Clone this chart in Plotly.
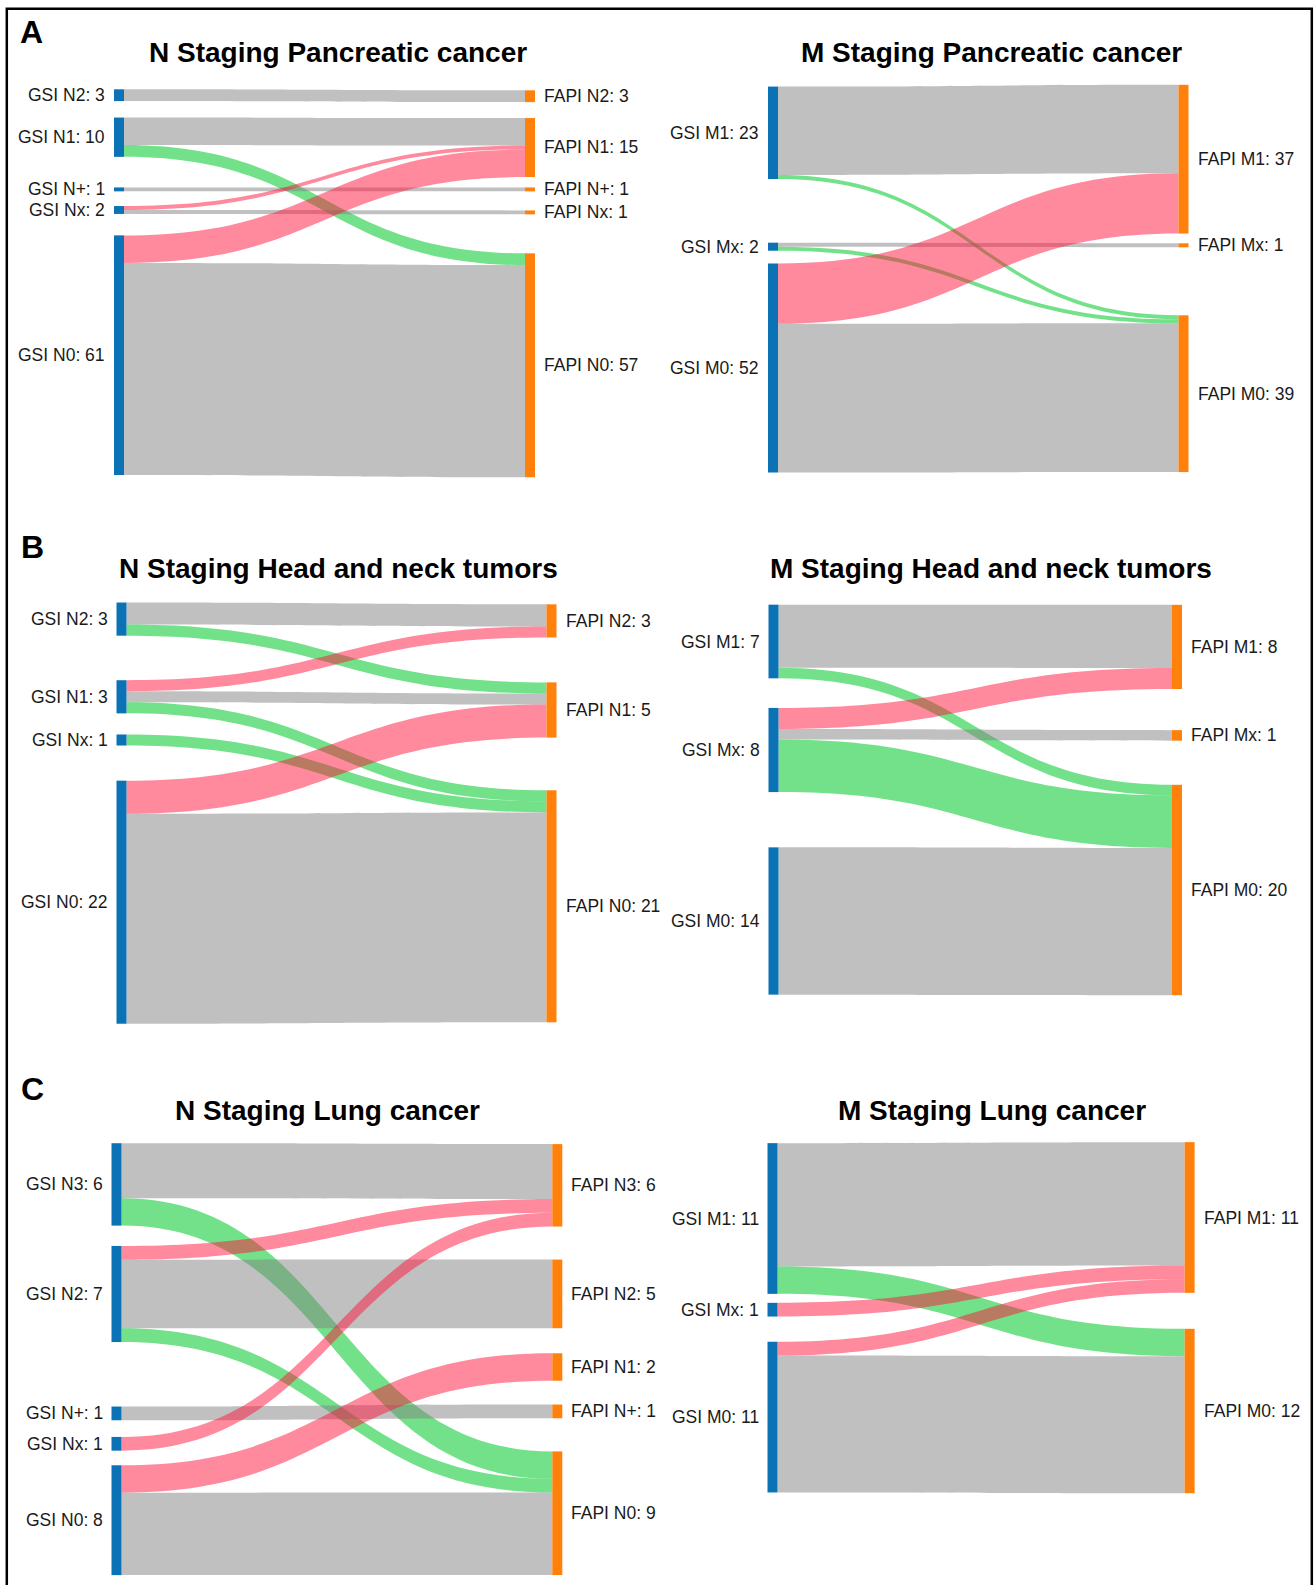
import plotly.graph_objects as go

# ---------------------------------------------------------------- data
# Panel A - Pancreatic cancer, N staging (GSI -> FAPI)
A_N_gsi = ["N2", "N1", "N+", "Nx", "N0"]
A_N_fapi = ["N2", "N1", "N+", "Nx", "N0"]
A_N_src = ["N2", "N1", "N1", "N+", "Nx", "Nx", "N0", "N0"]
A_N_tgt = ["N2", "N1", "N0", "N+", "N1", "Nx", "N1", "N0"]
A_N_val = [3, 7, 3, 1, 1, 1, 7, 54]

# Panel A - Pancreatic cancer, M staging
A_M_gsi = ["M1", "Mx", "M0"]
A_M_fapi = ["M1", "Mx", "M0"]
A_M_src = ["M1", "M1", "Mx", "Mx", "M0", "M0"]
A_M_tgt = ["M1", "M0", "Mx", "M0", "M1", "M0"]
A_M_val = [22, 1, 1, 1, 15, 37]

# Panel B - Head and neck tumors, N staging
B_N_gsi = ["N2", "N1", "Nx", "N0"]
B_N_fapi = ["N2", "N1", "N0"]
B_N_src = ["N2", "N2", "N1", "N1", "N1", "Nx", "N0", "N0"]
B_N_tgt = ["N2", "N1", "N2", "N1", "N0", "N0", "N1", "N0"]
B_N_val = [2, 1, 1, 1, 1, 1, 3, 19]

# Panel B - Head and neck tumors, M staging
B_M_gsi = ["M1", "Mx", "M0"]
B_M_fapi = ["M1", "Mx", "M0"]
B_M_src = ["M1", "M1", "Mx", "Mx", "Mx", "M0"]
B_M_tgt = ["M1", "M0", "M1", "Mx", "M0", "M0"]
B_M_val = [6, 1, 2, 1, 5, 14]

# Panel C - Lung cancer, N staging
C_N_gsi = ["N3", "N2", "N+", "Nx", "N0"]
C_N_fapi = ["N3", "N2", "N1", "N+", "N0"]
C_N_src = ["N3", "N3", "N2", "N2", "N2", "N+", "Nx", "N0", "N0"]
C_N_tgt = ["N3", "N0", "N3", "N2", "N0", "N+", "N3", "N1", "N0"]
C_N_val = [4, 2, 1, 5, 1, 1, 1, 2, 6]

# Panel C - Lung cancer, M staging
C_M_gsi = ["M1", "Mx", "M0"]
C_M_fapi = ["M1", "M0"]
C_M_src = ["M1", "M1", "Mx", "M0", "M0"]
C_M_tgt = ["M1", "M0", "M1", "M1", "M0"]
C_M_val = [9, 2, 1, 1, 10]

PANEL_LETTERS = ["A", "B", "C"]

# ---------------------------------------------------------------- style / geometry
W, H = 1316, 1585
FONT = "Liberation Sans, Arial, sans-serif"
BLUE = "#0b72b5"
ORANGE = "#ff800b"
GRAY = "rgba(130,130,130,0.5)"
RED = "rgba(255,20,60,0.5)"
GREEN = "rgba(0,200,40,0.55)"
NODE_T = 10          # node thickness (px)
LABEL_GAP = 8        # gap between node and its label (px)
LABEL_SIZE = 17.5
TITLE_SIZE = 28
RANK = {"0": 0, "x": 0.5, "+": 1, "1": 1, "2": 2, "3": 3}

# geometry in pixels: sankey extent, node padding, node centres, title position
panels = [
    dict(title="N Staging Pancreatic cancer", gsi=A_N_gsi, fapi=A_N_fapi,
         src=A_N_src, tgt=A_N_tgt, val=A_N_val,
         xr=(114, 535), yr=(89, 477.5), pad=21.5,
         gsi_c=[95.2, 137.2, 189.4, 210.0, 355.2],
         fapi_c=[96.2, 147.5, 189.4, 212.4, 365.3],
         title_xy=(338, 52.6)),
    dict(title="M Staging Pancreatic cancer", gsi=A_M_gsi, fapi=A_M_fapi,
         src=A_M_src, tgt=A_M_tgt, val=A_M_val,
         xr=(768, 1188.5), yr=(85, 473), pad=39.25,
         gsi_c=[132.8, 246.7, 368.0],
         fapi_c=[159.2, 245.3, 393.7],
         title_xy=(991.6, 52.6)),
    dict(title="N Staging Head and neck tumors", gsi=B_N_gsi, fapi=B_N_fapi,
         src=B_N_src, tgt=B_N_tgt, val=B_N_val,
         xr=(116.5, 556.5), yr=(602.6, 1024.4), pad=33.8,
         gsi_c=[619.1, 696.8, 740.0, 902.2],
         fapi_c=[620.9, 710.0, 906.3],
         title_xy=(338.6, 568.5)),
    dict(title="M Staging Head and neck tumors", gsi=B_M_gsi, fapi=B_M_fapi,
         src=B_M_src, tgt=B_M_tgt, val=B_M_val,
         xr=(768.5, 1182), yr=(604.7, 995.2), pad=42.7,
         gsi_c=[641.5, 750.0, 921.0],
         fapi_c=[646.9, 735.4, 890.0],
         title_xy=(991, 568)),
    dict(title="N Staging Lung cancer", gsi=C_N_gsi, fapi=C_N_fapi,
         src=C_N_src, tgt=C_N_tgt, val=C_N_val,
         xr=(111.5, 562.3), yr=(1143.3, 1575.1), pad=29,
         gsi_c=[1184.4, 1294.0, 1413.4, 1443.8, 1520.2],
         fapi_c=[1185.3, 1293.9, 1367.0, 1411.4, 1513.2],
         title_xy=(327.5, 1110)),
    dict(title="M Staging Lung cancer", gsi=C_M_gsi, fapi=C_M_fapi,
         src=C_M_src, tgt=C_M_tgt, val=C_M_val,
         xr=(767.5, 1194.6), yr=(1142.2, 1493), pad=17.85,
         gsi_c=[1218.5, 1309.7, 1417.1],
         fapi_c=[1217.5, 1411.0],
         title_xy=(991.6, 1110)),
]
letter_xy = [(31.5, 31.5), (32, 547), (32, 1089)]


def px_x(v):
    return v / W


def px_y(v):
    return 1 - v / H


def link_color(s, t):
    if s == t:
        return GRAY
    return RED if RANK[t[1]] > RANK[s[1]] else GREEN


fig = go.Figure()
annotations = []

for p in panels:
    gsi, fapi = p["gsi"], p["fapi"]
    ng, nf = len(gsi), len(fapi)
    x0, x1 = p["xr"]
    y0, y1 = p["yr"]
    wpx, hpx = x1 - x0, y1 - y0

    src_idx = [gsi.index(s) for s in p["src"]]
    tgt_idx = [ng + fapi.index(t) for t in p["tgt"]]
    gsi_tot = [sum(v for s, v in zip(p["src"], p["val"]) if s == g) for g in gsi]
    fapi_tot = [sum(v for t, v in zip(p["tgt"], p["val"]) if t == f) for f in fapi]
    names = ["GSI " + g for g in gsi] + ["FAPI " + f for f in fapi]

    node_x = [(NODE_T / 2) / wpx] * ng + [1 - (NODE_T / 2) / wpx] * nf
    node_y = [(c - y0) / hpx for c in p["gsi_c"]] + [(c - y0) / hpx for c in p["fapi_c"]]

    fig.add_trace(go.Sankey(
        arrangement="fixed",
        domain=dict(x=[px_x(x0), px_x(x1)], y=[px_y(y1), px_y(y0)]),
        node=dict(
            label=[""] * (ng + nf),
            customdata=names,
            hovertemplate="%{customdata}: %{value}<extra></extra>",
            pad=p["pad"],
            thickness=NODE_T,
            x=node_x,
            y=node_y,
            color=[BLUE] * ng + [ORANGE] * nf,
            line=dict(width=0),
        ),
        link=dict(
            source=src_idx,
            target=tgt_idx,
            value=p["val"],
            color=[link_color(s, t) for s, t in zip(p["src"], p["tgt"])],
            hovertemplate="%{source.customdata} → %{target.customdata}: %{value}<extra></extra>",
        ),
    ))

    # node labels (outside the nodes)
    for g, tot, c in zip(gsi, gsi_tot, p["gsi_c"]):
        annotations.append(dict(
            x=px_x(x0), y=px_y(c), xref="paper", yref="paper",
            text=f"GSI {g}: {tot}", showarrow=False, xanchor="right", yanchor="middle",
            xshift=-LABEL_GAP, borderpad=0,
            font=dict(family=FONT, size=LABEL_SIZE, color="#1a1a1a")))
    for f, tot, c in zip(fapi, fapi_tot, p["fapi_c"]):
        annotations.append(dict(
            x=px_x(x1), y=px_y(c), xref="paper", yref="paper",
            text=f"FAPI {f}: {tot}", showarrow=False, xanchor="left", yanchor="middle",
            xshift=LABEL_GAP, borderpad=0,
            font=dict(family=FONT, size=LABEL_SIZE, color="#1a1a1a")))

    # panel title
    tx, ty = p["title_xy"]
    annotations.append(dict(
        x=px_x(tx), y=px_y(ty), xref="paper", yref="paper", text=p["title"],
        showarrow=False, xanchor="center", yanchor="middle", borderpad=0,
        font=dict(family=FONT, size=TITLE_SIZE, color="black", weight="bold")))

for letter, (lx, ly) in zip(PANEL_LETTERS, letter_xy):
    annotations.append(dict(
        x=px_x(lx), y=px_y(ly), xref="paper", yref="paper", text=letter,
        showarrow=False, xanchor="center", yanchor="middle", borderpad=0,
        font=dict(family=FONT, size=32, color="black", weight="bold")))

fig.update_layout(
    width=W, height=H,
    margin=dict(l=0, r=0, t=0, b=0, pad=0),
    paper_bgcolor="white",
    plot_bgcolor="white",
    font=dict(family=FONT),
    annotations=annotations,
    shapes=[dict(type="rect", xref="paper", yref="paper",
                 x0=px_x(6.8), x1=px_x(1311.8), y0=px_y(1620), y1=px_y(8.7),
                 line=dict(color="black", width=2.5), fillcolor="rgba(0,0,0,0)",
                 layer="above")],
    showlegend=False,
)

fig.write_html("out.html", config={"displayModeBar": False},
               post_script="document.body.style.margin='0px';")
